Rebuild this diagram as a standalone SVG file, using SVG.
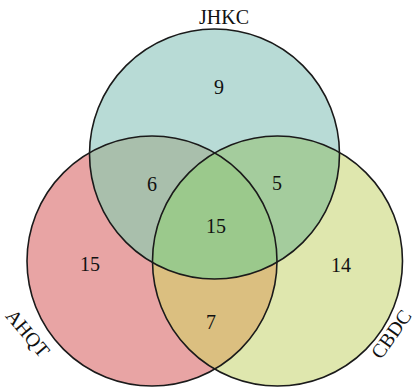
<svg xmlns="http://www.w3.org/2000/svg" width="417" height="387" viewBox="0 0 417 387">
<defs>
<style>
.lbl{font-family:"Liberation Serif","Times New Roman",serif;font-size:20px;fill:#111;text-anchor:middle}
.edge{fill:none;stroke:#1a1a1a;stroke-width:1.6}
</style>
<clipPath id="cT"><circle cx="214.5" cy="154" r="125"/></clipPath>
<clipPath id="cL"><circle cx="152" cy="261" r="125"/></clipPath>
<clipPath id="cR"><circle cx="277.5" cy="261" r="125"/></clipPath>
</defs>
<rect width="417" height="387" fill="#fff"/>
<g id="fills">
<circle cx="214.5" cy="154" r="125" fill="#b8dbd6"/>
<circle cx="152" cy="261" r="125" fill="#e8a4a4"/>
<circle cx="277.5" cy="261" r="125" fill="#dfe7ae"/>
<g clip-path="url(#cT)"><circle cx="152" cy="261" r="125" fill="#a9bfac"/><circle cx="277.5" cy="261" r="125" fill="#a4cc9d"/></g>
<g clip-path="url(#cL)"><circle cx="277.5" cy="261" r="125" fill="#dbbf80"/></g>
<g clip-path="url(#cT)"><g clip-path="url(#cL)"><circle cx="277.5" cy="261" r="125" fill="#9bc98c"/></g></g>
</g>
<g id="JHKC"><circle class="edge" cx="214.5" cy="154" r="125"/><text class="lbl" x="224" y="24">JHKC</text></g>
<g id="AHQT"><circle class="edge" cx="152" cy="261" r="125"/><text class="lbl" transform="translate(28,333) rotate(50)" y="7">AHQT</text></g>
<g id="CBDC"><circle class="edge" cx="277.5" cy="261" r="125"/><text class="lbl" transform="translate(391,334) rotate(-55)" y="7">CBDC</text></g>
<g id="counts">
<text class="lbl" x="219" y="94">9</text>
<text class="lbl" x="152" y="191">6</text>
<text class="lbl" x="277" y="190">5</text>
<text class="lbl" x="216" y="233">15</text>
<text class="lbl" x="90" y="271">15</text>
<text class="lbl" x="341" y="272">14</text>
<text class="lbl" x="211" y="329">7</text>
</g>
</svg>
